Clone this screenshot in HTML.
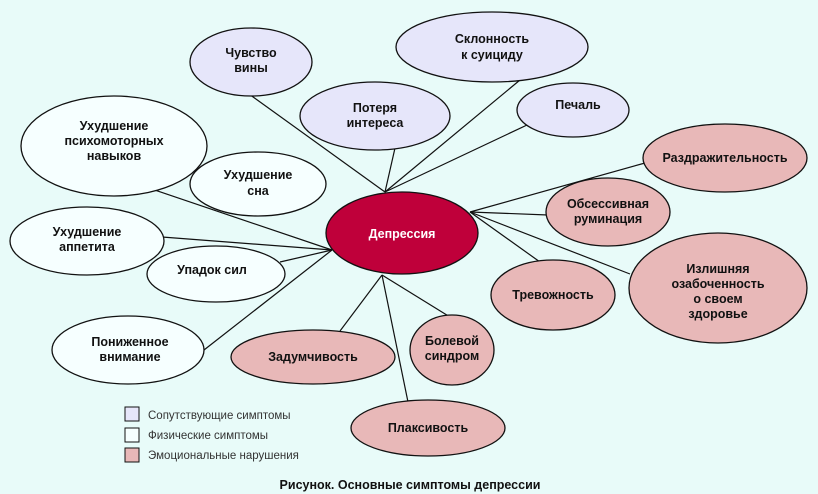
<!DOCTYPE html>
<html><head><meta charset="utf-8"><style>
html,body{margin:0;padding:0;background:#e8fbf9;}
svg{display:block}
text{font-family:"Liberation Sans",sans-serif;font-size:12.5px;font-weight:bold;fill:#111;text-anchor:middle}
</style></head><body>
<svg width="818" height="494" xmlns="http://www.w3.org/2000/svg">
<rect width="818" height="494" fill="#e8fbf9"/>
<g stroke="#111" stroke-width="1.2">
<line x1="385" y1="192" x2="249" y2="94"/>
<line x1="385" y1="192" x2="520" y2="80"/>
<line x1="385" y1="192" x2="527" y2="125"/>
<line x1="385" y1="192" x2="395" y2="148"/>
<line x1="332" y1="250" x2="125" y2="180"/>
<line x1="470" y1="212" x2="645" y2="163"/>
<line x1="470" y1="212" x2="548" y2="215"/>
<line x1="470" y1="212" x2="630" y2="274"/>
<line x1="470" y1="212" x2="540" y2="262"/>
<line x1="332" y1="250" x2="162" y2="237"/>
<line x1="332" y1="250" x2="280" y2="262"/>
<line x1="332" y1="250" x2="204" y2="350"/>
<line x1="382" y1="275" x2="340" y2="331"/>
<line x1="382" y1="275" x2="450" y2="317"/>
<line x1="382" y1="275" x2="408" y2="402"/>
</g>
<g stroke="#111" stroke-width="1.3">
<ellipse cx="251" cy="62" rx="61" ry="34" fill="#e6e6fa"/>
<ellipse cx="492" cy="47" rx="96" ry="35" fill="#e6e6fa"/>
<ellipse cx="375" cy="116" rx="75" ry="34" fill="#e6e6fa"/>
<ellipse cx="573" cy="110" rx="56" ry="27" fill="#e6e6fa"/>
<ellipse cx="114" cy="146" rx="93" ry="50" fill="#f6ffff"/>
<ellipse cx="258" cy="184" rx="68" ry="32" fill="#f6ffff"/>
<ellipse cx="87" cy="241" rx="77" ry="34" fill="#f6ffff"/>
<ellipse cx="216" cy="274" rx="69" ry="28" fill="#f6ffff"/>
<ellipse cx="128" cy="350" rx="76" ry="34" fill="#f6ffff"/>
<ellipse cx="725" cy="158" rx="82" ry="34" fill="#e8b8b8"/>
<ellipse cx="608" cy="212" rx="62" ry="34" fill="#e8b8b8"/>
<ellipse cx="718" cy="288" rx="89" ry="55" fill="#e8b8b8"/>
<ellipse cx="553" cy="295" rx="62" ry="35" fill="#e8b8b8"/>
<ellipse cx="313" cy="357" rx="82" ry="27" fill="#e8b8b8"/>
<ellipse cx="452" cy="350" rx="42" ry="35" fill="#e8b8b8"/>
<ellipse cx="428" cy="428" rx="77" ry="28" fill="#e8b8b8"/>
<ellipse cx="402" cy="233" rx="76" ry="41" fill="#bf003a"/>
</g>
<text x="251" y="57">Чувство</text><text x="251" y="72">вины</text>
<text x="492" y="43">Склонность</text><text x="492" y="59">к суициду</text>
<text x="375" y="112">Потеря</text><text x="375" y="127">интереса</text>
<text x="578" y="109">Печаль</text>
<text x="114" y="130">Ухудшение</text><text x="114" y="145">психомоторных</text><text x="114" y="160">навыков</text>
<text x="258" y="179">Ухудшение</text><text x="258" y="195">сна</text>
<text x="87" y="236">Ухудшение</text><text x="87" y="251">аппетита</text>
<text x="212" y="274">Упадок сил</text>
<text x="130" y="346">Пониженное</text><text x="130" y="361">внимание</text>
<text x="725" y="162">Раздражительность</text>
<text x="608" y="208">Обсессивная</text><text x="608" y="223">руминация</text>
<text x="718" y="273">Излишняя</text><text x="718" y="288">озабоченность</text><text x="718" y="303">о своем</text><text x="718" y="318">здоровье</text>
<text x="553" y="299">Тревожность</text>
<text x="313" y="361">Задумчивость</text>
<text x="452" y="345">Болевой</text><text x="452" y="360">синдром</text>
<text x="428" y="432">Плаксивость</text>
<text x="402" y="238" style="fill:#fff">Депрессия</text>
<g stroke="#111" stroke-width="1">
<rect x="125" y="407" width="14" height="14" fill="#e6e6fa"/>
<rect x="125" y="428" width="14" height="14" fill="#f6ffff"/>
<rect x="125" y="448" width="14" height="14" fill="#e8b8b8"/>
</g>
<text x="148" y="419" style="text-anchor:start;font-size:11.5px;font-weight:normal;fill:#333">Сопутствующие симптомы</text>
<text x="148" y="439" style="text-anchor:start;font-size:11.5px;font-weight:normal;fill:#333">Физические симптомы</text>
<text x="148" y="459" style="text-anchor:start;font-size:11.5px;font-weight:normal;fill:#333">Эмоциональные нарушения</text>
<text x="410" y="489" style="font-size:12.5px">Рисунок. Основные симптомы депрессии</text>
</svg>
</body></html>
